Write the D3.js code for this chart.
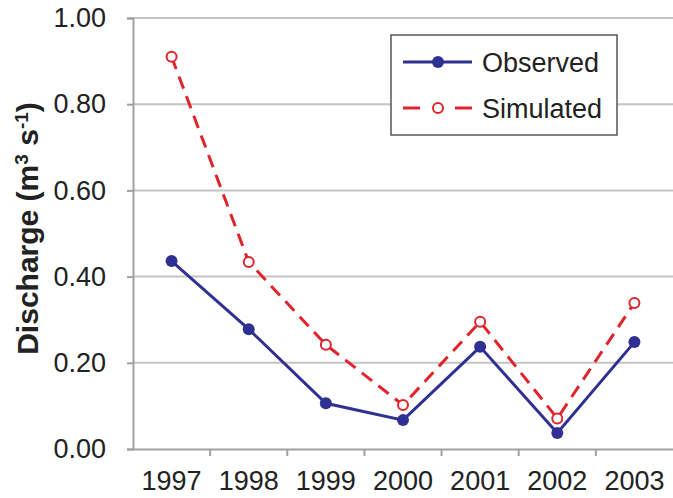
<!DOCTYPE html>
<html>
<head>
<meta charset="utf-8">
<script src="https://cdn.jsdelivr.net/npm/d3@7"></script>
<style>
  body { margin: 0; background: #fff; }
  text { font-family: "Liberation Sans", Arial, sans-serif; fill: #222; }
</style>
</head>
<body>
<script>
// data
var years = ["1997", "1998", "1999", "2000", "2001", "2002", "2003"];
var observed = [0.436, 0.278, 0.106, 0.067, 0.237, 0.037, 0.248];
var simulated = [0.910, 0.434, 0.242, 0.102, 0.295, 0.071, 0.339];
var yTicks = [0, 0.2, 0.4, 0.6, 0.8, 1.0];

var W = 673, H = 498;
var margin = { top: 18, right: 0, bottom: 49, left: 133 };
var width = W - margin.left - margin.right;
var height = H - margin.top - margin.bottom;

var navy = "#2f3192", red = "#e0242c", grid = "#c4c4c4", axisCol = "#a0a0a0";

var svg = d3.select("body").append("svg")
    .attr("width", W)
    .attr("height", H);

var g = svg.append("g")
    .attr("transform", "translate(" + margin.left + "," + margin.top + ")");

var x = d3.scaleBand().domain(years).range([0, width]);
var y = d3.scaleLinear().domain([0, 1]).range([height, 0]);

// gridlines
g.append("g").selectAll("line")
    .data(yTicks.filter(d => d > 0))
    .enter().append("line")
    .attr("x1", 0).attr("x2", width)
    .attr("y1", d => y(d)).attr("y2", d => y(d))
    .attr("stroke", grid).attr("stroke-width", 2);

// y axis
var yAxis = g.append("g")
    .call(d3.axisLeft(y).tickValues(yTicks).tickFormat(d3.format(".2f")).tickSize(6).tickPadding(21));
yAxis.select(".domain").attr("stroke", axisCol).attr("stroke-width", 2);
yAxis.selectAll(".tick line").attr("stroke", axisCol).attr("stroke-width", 2);
yAxis.selectAll("text").style("font-size", "27px").attr("fill", "#222");

// x axis, ticks on band edges
var xAxis = g.append("g")
    .attr("transform", "translate(0," + height + ")")
    .call(d3.axisBottom(x).tickSize(0).tickPadding(22));
xAxis.select(".domain").attr("stroke", axisCol).attr("stroke-width", 2);
xAxis.selectAll("text").style("font-size", "27px").attr("fill", "#222");
xAxis.selectAll(".edge")
    .data(years.slice(1))
    .enter().append("line")
    .attr("x1", d => x(d)).attr("x2", d => x(d))
    .attr("y1", 0).attr("y2", 7)
    .attr("stroke", axisCol).attr("stroke-width", 2);

// y label
svg.append("text")
    .attr("transform", "translate(38," + (margin.top + height / 2 - 5) + ") rotate(-90)")
    .attr("text-anchor", "middle")
    .style("font-size", "30px")
    .style("font-weight", "bold")
    .html('Discharge (m<tspan baseline-shift="super" font-size="19px">3</tspan> s<tspan baseline-shift="super" font-size="19px">-1</tspan>)');

var cx = (d, i) => x(years[i]) + x.bandwidth() / 2;
var line = d3.line().x((d, i) => cx(d, i)).y(d => y(d));

g.append("path").datum(simulated)
    .attr("d", line)
    .attr("fill", "none").attr("stroke", red)
    .attr("stroke-width", 3).attr("stroke-dasharray", "13,8");

g.append("path").datum(observed)
    .attr("d", line)
    .attr("fill", "none").attr("stroke", navy)
    .attr("stroke-width", 3);

g.append("g").selectAll("circle")
    .data(simulated)
    .enter().append("circle")
    .attr("cx", cx).attr("cy", d => y(d))
    .attr("r", 5).attr("fill", "#fff")
    .attr("stroke", red).attr("stroke-width", 2);

g.append("g").selectAll("circle")
    .data(observed)
    .enter().append("circle")
    .attr("cx", cx).attr("cy", d => y(d))
    .attr("r", 6).attr("fill", navy);

// legend
var leg = svg.append("g").attr("transform", "translate(391,35)");
leg.append("rect")
    .attr("width", 226).attr("height", 100)
    .attr("fill", "#fff").attr("stroke", "#555").attr("stroke-width", 1.5);

leg.append("line").attr("x1", 12).attr("x2", 81).attr("y1", 27).attr("y2", 27)
    .attr("stroke", navy).attr("stroke-width", 3);
leg.append("circle").attr("cx", 47).attr("cy", 27).attr("r", 6).attr("fill", navy);
leg.append("text").attr("x", 91).attr("y", 37).style("font-size", "27px").text("Observed");

leg.append("line").attr("x1", 12).attr("x2", 81).attr("y1", 73).attr("y2", 73)
    .attr("stroke", red).attr("stroke-width", 3).attr("stroke-dasharray", "17,18,0,17,17");
leg.append("circle").attr("cx", 47).attr("cy", 73).attr("r", 5)
    .attr("fill", "#fff").attr("stroke", red).attr("stroke-width", 2);
leg.append("text").attr("x", 91).attr("y", 83).style("font-size", "27px").text("Simulated");
</script>
</body>
</html>
